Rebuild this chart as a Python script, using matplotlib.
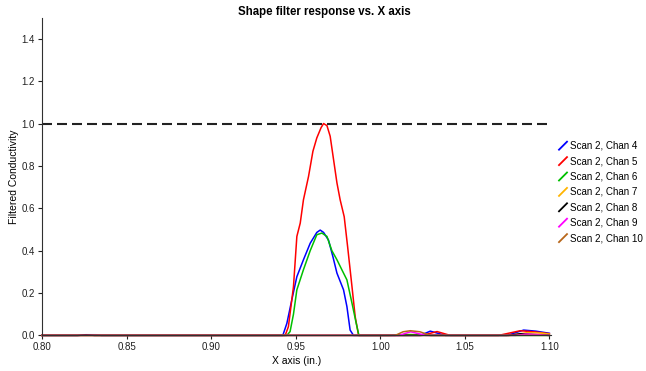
import matplotlib
matplotlib.use('Agg')
import matplotlib.pyplot as plt
from matplotlib.lines import Line2D

plt.rcParams['font.family'] = ['Liberation Sans', 'DejaVu Sans']

# channel data (x in inches, filtered conductivity)
x_ch4 = [0.80, 0.822, 0.826, 0.832, 0.835, 0.9424, 0.9448, 0.9477, 0.9507, 0.9546, 0.9586, 0.9625, 0.9645,
         0.9665, 0.9694, 0.972, 0.9744, 0.9783, 0.9803, 0.9822, 0.9842, 1.0237, 1.0296, 1.0385,
         1.075, 1.0848, 1.092, 1.10]
y_ch4 = [0.0, 0.0, 0.003, 0.003, 0.0, 0.0, 0.057, 0.167, 0.277, 0.357, 0.435, 0.486, 0.497,
         0.486, 0.45, 0.372, 0.294, 0.215, 0.136, 0.025, 0.0, 0.0, 0.02, 0.0,
         0.0, 0.025, 0.02, 0.01]

x_ch5 = [0.80, 0.9438, 0.9457, 0.9487, 0.9507, 0.9527, 0.9546, 0.9576, 0.9602, 0.9625, 0.9650, 0.9665, 0.9685,
         0.9704, 0.9724, 0.9744, 0.9763, 0.9787, 0.9807, 0.9833, 0.9852, 0.9872, 1.0247, 1.0336, 1.0414,
         1.07, 1.0828, 1.092, 1.10]
y_ch5 = [0.0, 0.0, 0.041, 0.23, 0.467, 0.53, 0.64, 0.75, 0.869, 0.932, 0.98, 1.0, 0.99,
         0.94, 0.83, 0.72, 0.64, 0.56, 0.42, 0.23, 0.088, 0.0, 0.0, 0.018, 0.0,
         0.0, 0.022, 0.016, 0.008]

x_ch6 = [0.80, 0.9448, 0.9467, 0.9487, 0.9507, 0.9546, 0.9586, 0.9625, 0.9655, 0.9685, 0.9714, 0.9744,
         0.9773, 0.9803, 0.9833, 0.9858, 0.9874, 1.005, 1.018, 1.03, 1.10]
y_ch6 = [0.0, 0.0, 0.018, 0.10, 0.215, 0.31, 0.40, 0.475, 0.483, 0.467, 0.40, 0.357,
         0.31, 0.262, 0.152, 0.057, 0.0, 0.0, 0.004, 0.0, 0.0]

x_ch7 = [0.80, 1.077, 1.087, 1.095, 1.10]
y_ch7 = [0.0, 0.0, 0.013, 0.011, 0.006]

x_ch8 = [0.80, 0.821, 0.826, 0.831, 1.076, 1.083, 1.09, 1.10]
y_ch8 = [0.0, 0.0, 0.003, 0.0, 0.0, 0.008, 0.004, 0.0]

x_ch9 = [0.80, 1.011, 1.018, 1.027, 1.08, 1.086, 1.093, 1.10]
y_ch9 = [0.0, 0.0, 0.017, 0.0, 0.0, 0.006, 0.004, 0.0]

x_ch10 = [0.80, 1.0089, 1.0135, 1.0178, 1.0235, 1.0296, 1.10]
y_ch10 = [0.0, 0.0, 0.017, 0.022, 0.017, 0.0, 0.0]

labels = ['Scan 2, Chan 4', 'Scan 2, Chan 5', 'Scan 2, Chan 6', 'Scan 2, Chan 7',
          'Scan 2, Chan 8', 'Scan 2, Chan 9', 'Scan 2, Chan 10']
colors = ['#0000ff', '#ff0000', '#00c000', '#ffb400', '#000000', '#ff00ff', '#b8661a']
xs = [x_ch4, x_ch5, x_ch6, x_ch7, x_ch8, x_ch9, x_ch10]
ys = [y_ch4, y_ch5, y_ch6, y_ch7, y_ch8, y_ch9, y_ch10]

xticks = [0.80, 0.85, 0.90, 0.95, 1.00, 1.05, 1.10]
yticks = [0.0, 0.2, 0.4, 0.6, 0.8, 1.0, 1.2, 1.4]

fig = plt.figure(figsize=(6.46, 3.71), dpi=100)
ax = fig.add_axes([0.065, 0.096, 0.788, 0.8566])

for x, y, c in zip(xs, ys, colors):
    ax.plot(x, y, color=c, lw=1.1, clip_on=False)

ax.axhline(1.0, color='#222222', lw=1.5, dashes=(4.8, 2.4))

ax.set_xlim(0.8, 1.101)
ax.set_ylim(0, 1.5)
ax.set_xticks(xticks)
ax.set_xticklabels(['%.2f' % v for v in xticks])
ax.set_yticks(yticks)
ax.set_yticklabels(['%.1f' % v for v in yticks])
ax.tick_params(labelsize=7, length=3, width=0.8, pad=2, colors='#202020')

for s in ['top', 'right']:
    ax.spines[s].set_visible(False)
for s in ['left', 'bottom']:
    ax.spines[s].set_color('#303030')
    ax.spines[s].set_linewidth(0.8)

ax.set_xlabel('X axis (in.)', fontsize=7.5, labelpad=3)
ax.set_ylabel('Filtered Conductivity', fontsize=7.5, labelpad=2)
fig.suptitle('Shape filter response vs. X axis', fontsize=8.3, fontweight='bold',
             x=0.502, y=0.985, va='top')

# legend outside the axes on the right, drawn by hand
W, H = 646.0, 371.0
for i, (lab, c) in enumerate(zip(labels, colors)):
    yc = 145.7 + 15.4 * i
    fig.add_artist(Line2D([559 / W, 567 / W], [(H - yc - 4) / H, (H - yc + 4) / H],
                          color=c, lw=1.3, transform=fig.transFigure))
    fig.text(569.5 / W, (H - yc) / H, lab, fontsize=7.1, va='center', ha='left')

fig.savefig('out.png', dpi=100)
